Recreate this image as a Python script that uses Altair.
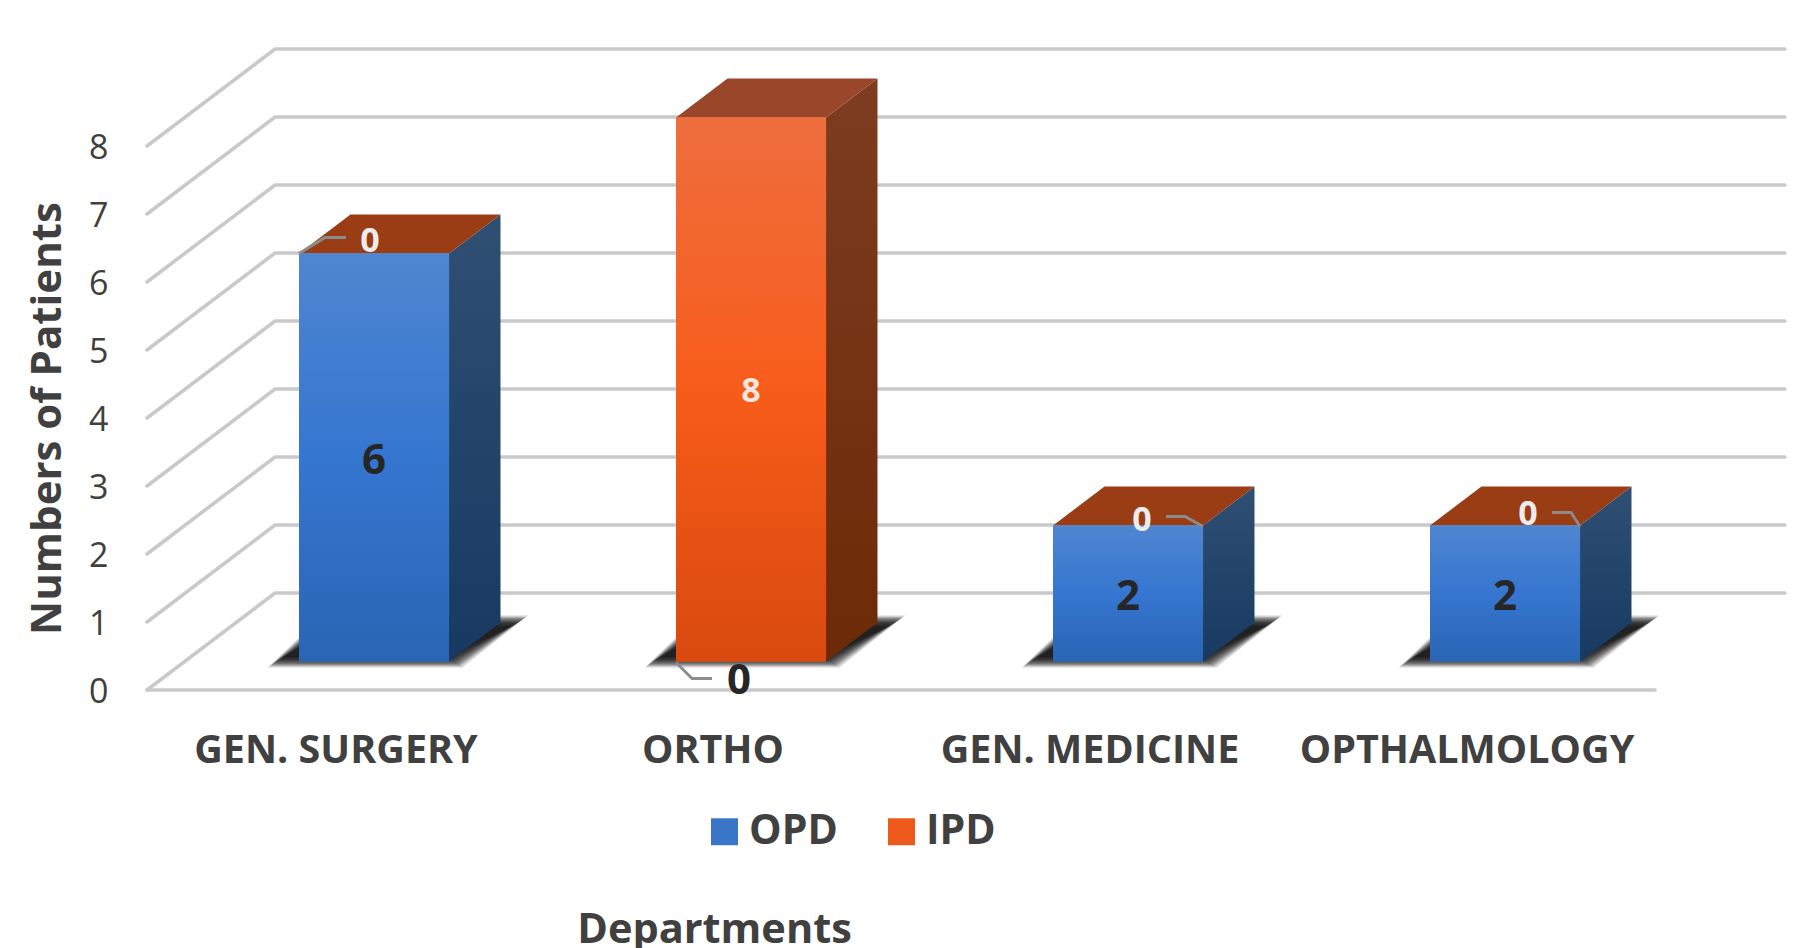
import altair as alt
import pandas as pd

# ---- values ----
categories = ["GEN. SURGERY", "ORTHO", "GEN. MEDICINE", "OPTHALMOLOGY"]
opd = [6, 0, 2, 2]
ipd = [0, 8, 0, 0]
series_names = ["OPD", "IPD"]
y_ticks = [0, 1, 2, 3, 4, 5, 6, 7, 8]

# ---- oblique projection used to fake the 3-D box ----
SLOT = 377.0      # px per category slot
UNIT = 68.0       # px per patient
DEPTH_X = 128.0   # px of floor depth
DEPTH_Y = 97.0
BAR_LEFT = 0.3035
BAR_W = 150.0 / SLOT
BAR_D0 = 28.5 / DEPTH_Y
BAR_D1 = 67.5 / DEPTH_Y
PLOT_W, PLOT_H = 1652, 660
FONT = "Open Sans"
INK = "#404040"


def px(s, d=0.0):
    """slot position + depth -> x data units"""
    return s + d * DEPTH_X / SLOT


def py(v, d=0.0):
    """value + depth -> y data units"""
    return v + d * DEPTH_Y / UNIT


x_scale = alt.Scale(domain=[0, PLOT_W / SLOT], nice=False, zero=False)
y_scale = alt.Scale(domain=[0, PLOT_H / UNIT], nice=False, zero=False)

x_axis = alt.Axis(values=[i + 0.5 for i in range(len(categories))],
                  labelExpr="%r[floor(datum.value)]" % (categories,),
                  title="Departments", titleFont=FONT, titleFontSize=41.5,
                  titleFontWeight="bold", titleColor=INK, titleBaseline="alphabetic",
                  titleX=567, titleY=252, titleAnchor="middle", titleAlign="center",
                  labelFont=FONT, labelFontSize=39.5, labelFontWeight="bold", labelColor=INK,
                  labelPadding=41, labelLimit=0, labelFlush=False, labelOverlap=False,
                  domain=False, ticks=False, grid=False)
y_axis = alt.Axis(values=y_ticks, format="d",
                  title="Numbers of Patients", titleFont=FONT, titleFontSize=42,
                  titleFontWeight="bold", titleColor=INK,
                  titleX=-100, titleY=388, titleAngle=270, titleAlign="center",
                  titleBaseline="middle",
                  labelFont=FONT, labelFontSize=34, labelColor=INK, labelPadding=39, labelOffset=2,
                  domain=False, ticks=False, grid=False)


def X(f):
    return alt.X(f, type="quantitative", scale=x_scale, axis=x_axis, stack=None)


def Y(f):
    return alt.Y(f, type="quantitative", scale=y_scale, axis=y_axis, stack=None)


def grad(stops, x1=0, y1=0, x2=0, y2=1):
    return alt.LinearGradient(
        gradient="linear", x1=x1, y1=y1, x2=x2, y2=y2,
        stops=[alt.GradientStop(color=c, offset=o) for o, c in stops],
    )


def polygon(df, fill, **kw):
    """A filled, closed outline through the rows of df, in the order of column j."""
    return alt.Chart(df).mark_line(fill=fill, strokeWidth=0, interpolate="linear-closed", **kw).encode(
        x=X("px"), y=Y("py"), detail="id:N", order="j:Q")


BLUE_FRONT = grad([(0, "#4f86d0"), (0.5, "#3576d0"), (1, "#2a65b3")])
ORANGE_FRONT = grad([(0, "#ee6e3e"), (0.5, "#f75c1a"), (1, "#d9490e")])
BLUE_SIDE = grad([(0, "#2f4f73"), (1, "#183a60")])
ORANGE_SIDE = grad([(0, "#7e3c20"), (1, "#6c2a08")])
BLUE_TOP = "#9a3c14"
ORANGE_TOP = "#9a462a"

# ---- gridlines: a polyline per tick, plus the floor's front edge ----
grid_rows = []
for v in y_ticks:
    for i, (s, d) in enumerate([(0, 0), (0, 1), (len(categories) + 0.005, 1)]):
        grid_rows.append({"tick": v, "i": i, "gx": px(s, d), "gy": py(v, d)})
for i, s in enumerate([0, len(categories)]):
    grid_rows.append({"tick": -1, "i": i, "gx": px(s), "gy": py(0)})
grid_df = pd.DataFrame(grid_rows)

grid = alt.Chart(grid_df).mark_line(color="#c9c9c9", strokeWidth=3.6, strokeCap="round").encode(
    x=X("gx"), y=Y("gy"), detail="tick:N", order="i:Q")

# ---- bar geometry from the series ----
front_rows, side_rows, top_rows, shadow_rows = [], [], [], []
for c, cat in enumerate(categories):
    s0 = c + BAR_LEFT
    s1 = s0 + BAR_W
    base = 0
    for name, vals in zip(series_names, (opd, ipd)):
        val = vals[c]
        if val > 0:
            front_rows.append({"category": cat, "series": name,
                               "x0": px(s0, BAR_D0), "x1": px(s1, BAR_D0),
                               "y0": py(base, BAR_D0), "y1": py(base + val, BAR_D0)})
            corners = [(BAR_D0, base), (BAR_D1, base), (BAR_D1, base + val), (BAR_D0, base + val)]
            for j, (d, v) in enumerate(corners):
                side_rows.append({"id": f"{cat}-{name}", "series": name, "j": j,
                                  "px": px(s1, d), "py": py(v, d)})
        base += val
    corners = [(s0, BAR_D0), (s1, BAR_D0), (s1, BAR_D1), (s0, BAR_D1)]
    for j, (s, d) in enumerate(corners):
        top_rows.append({"id": cat, "series": "IPD" if ipd[c] > 0 else "OPD", "j": j,
                         "px": px(s, d), "py": py(base, d)})
    # soft floor shadow: nested, translucent parallelograms
    fx0, fx1, fy = px(s0, BAR_D0), px(s1, BAR_D0), py(0, BAR_D0)
    for k, grow in enumerate([7, 5, 3.5, 2, 0.5, -1, -2.5, -4, -6, -8]):
        corners = [(-24 - grow, -1 - grow * 0.7), (6 + grow, -1 - grow * 0.7),
                   (72 + grow, 41 + grow * 0.7), (30 - grow, 41 + grow * 0.7)]
        for j, (ox, oy) in enumerate(corners):
            shadow_rows.append({"id": f"{cat}-{k}", "j": j,
                                "px": fx0 + ox / SLOT if j in (0, 3) else fx1 + ox / SLOT,
                                "py": fy + oy / UNIT})
front_df = pd.DataFrame(front_rows)
side_df = pd.DataFrame(side_rows)
top_df = pd.DataFrame(top_rows)
shadow_df = pd.DataFrame(shadow_rows)

shadow = polygon(shadow_df, "#000000", opacity=0.18)

sides, tops, fronts = [], [], []
for name, f_fill, s_fill, t_fill in [("OPD", BLUE_FRONT, BLUE_SIDE, BLUE_TOP),
                                     ("IPD", ORANGE_FRONT, ORANGE_SIDE, ORANGE_TOP)]:
    sides.append(polygon(side_df[side_df.series == name], s_fill))
    tops.append(polygon(top_df[top_df.series == name], t_fill))
    fronts.append(alt.Chart(front_df[front_df.series == name]).mark_rect(color=f_fill).encode(
        x=X("x0"), x2=alt.X2("x1"), y=Y("y0"), y2=alt.Y2("y1")))

# solid base of the front faces carries the legend; the gradients are laid over it
legend_base = alt.Chart(front_df).mark_rect().encode(
    x=X("x0"), x2=alt.X2("x1"), y=Y("y0"), y2=alt.Y2("y1"),
    color=alt.Color("series:N",
                    scale=alt.Scale(domain=series_names, range=["#3a76c8", "#ee5a1c"]),
                    sort=series_names,
                    legend=alt.Legend(orient="none", legendX=557, legendY=781, direction="horizontal",
                                      columns=2, columnPadding=43, title=None,
                                      symbolType="square", symbolSize=729, symbolStrokeWidth=0,
                                      labelFont=FONT, labelFontSize=41, labelFontWeight="bold",
                                      labelColor=INK, labelOffset=4)),
)

# ---- data labels ----
centre_rows = []
for c, cat in enumerate(categories):
    base = 0
    for name, vals in zip(series_names, (opd, ipd)):
        if vals[c] > 0:
            centre_rows.append({"label": str(vals[c]), "series": name,
                                "lx": px(c + BAR_LEFT + BAR_W / 2, BAR_D0),
                                "ly": py(base + vals[c] / 2, BAR_D0)})
        base += vals[c]
centre_df = pd.DataFrame(centre_rows)
labels_opd = alt.Chart(centre_df[centre_df.series == "OPD"]).mark_text(
    font=FONT, fontSize=42, fontWeight="bold", color="#262626", dy=3).encode(
    x=X("lx"), y=Y("ly"), text="label:N")
labels_ipd = alt.Chart(centre_df[centre_df.series == "IPD"]).mark_text(
    font=FONT, fontSize=34, fontWeight="bold", color="#f3e7dd", dy=2).encode(
    x=X("lx"), y=Y("ly"), text="label:N")

# zero-value labels with their leader lines, nudged in px from each bar's front corner
zero_place = [
    {"anchor": "top", "label": (71, -14), "lead": [(0, 0), (26, -16), (47, -16)]},
    {"anchor": "bottom", "label": (63, 17), "lead": [(0, 1), (16, 17), (36, 17)]},
    {"anchor": "top", "label": (89, -7), "lead": [(150, 1), (132, -9), (113, -9)]},
    {"anchor": "top", "label": (98, -13), "lead": [(150, 1), (141, -13), (122, -13)]},
]
zero_rows, lead_rows = [], []
for c, (cat, place) in enumerate(zip(categories, zero_place)):
    total = opd[c] + ipd[c]
    ax = px(c + BAR_LEFT, BAR_D0)
    ay = py(total if place["anchor"] == "top" else 0, BAR_D0)
    zero_val = ipd[c] if opd[c] > 0 else opd[c]
    ox, oy = place["label"]
    zero_rows.append({"label": str(zero_val), "lx": ax + ox / SLOT, "ly": ay - oy / UNIT,
                      "dark": place["anchor"] == "bottom"})
    for j, (ox, oy) in enumerate(place["lead"]):
        lead_rows.append({"category": cat, "j": j, "lx": ax + ox / SLOT, "ly": ay - oy / UNIT})
zero_df = pd.DataFrame(zero_rows)
lead_df = pd.DataFrame(lead_rows)

leaders = alt.Chart(lead_df).mark_line(color="#8c8c8c", strokeWidth=2.8).encode(
    x=X("lx"), y=Y("ly"), detail="category:N", order="j:Q")
zero_light = alt.Chart(zero_df[~zero_df.dark]).mark_text(
    font=FONT, fontSize=34, fontWeight="bold", color="#ececec", dy=2).encode(
    x=X("lx"), y=Y("ly"), text="label:N")
zero_dark = alt.Chart(zero_df[zero_df.dark]).mark_text(
    font=FONT, fontSize=42, fontWeight="bold", color="#262626", dy=2).encode(
    x=X("lx"), y=Y("ly"), text="label:N")

chart = alt.layer(
    grid, shadow, *sides, *tops, legend_base, *fronts, leaders,
    labels_opd, labels_ipd, zero_light, zero_dark,
).properties(
    width=PLOT_W, height=PLOT_H,
    background="white",
    autosize=alt.AutoSizeParams(type="none"),
    padding={"left": 139, "top": 22, "right": 11, "bottom": 258},
).configure_view(stroke=None)

chart.save("out.html", embed_options={"renderer": "svg", "actions": False})
